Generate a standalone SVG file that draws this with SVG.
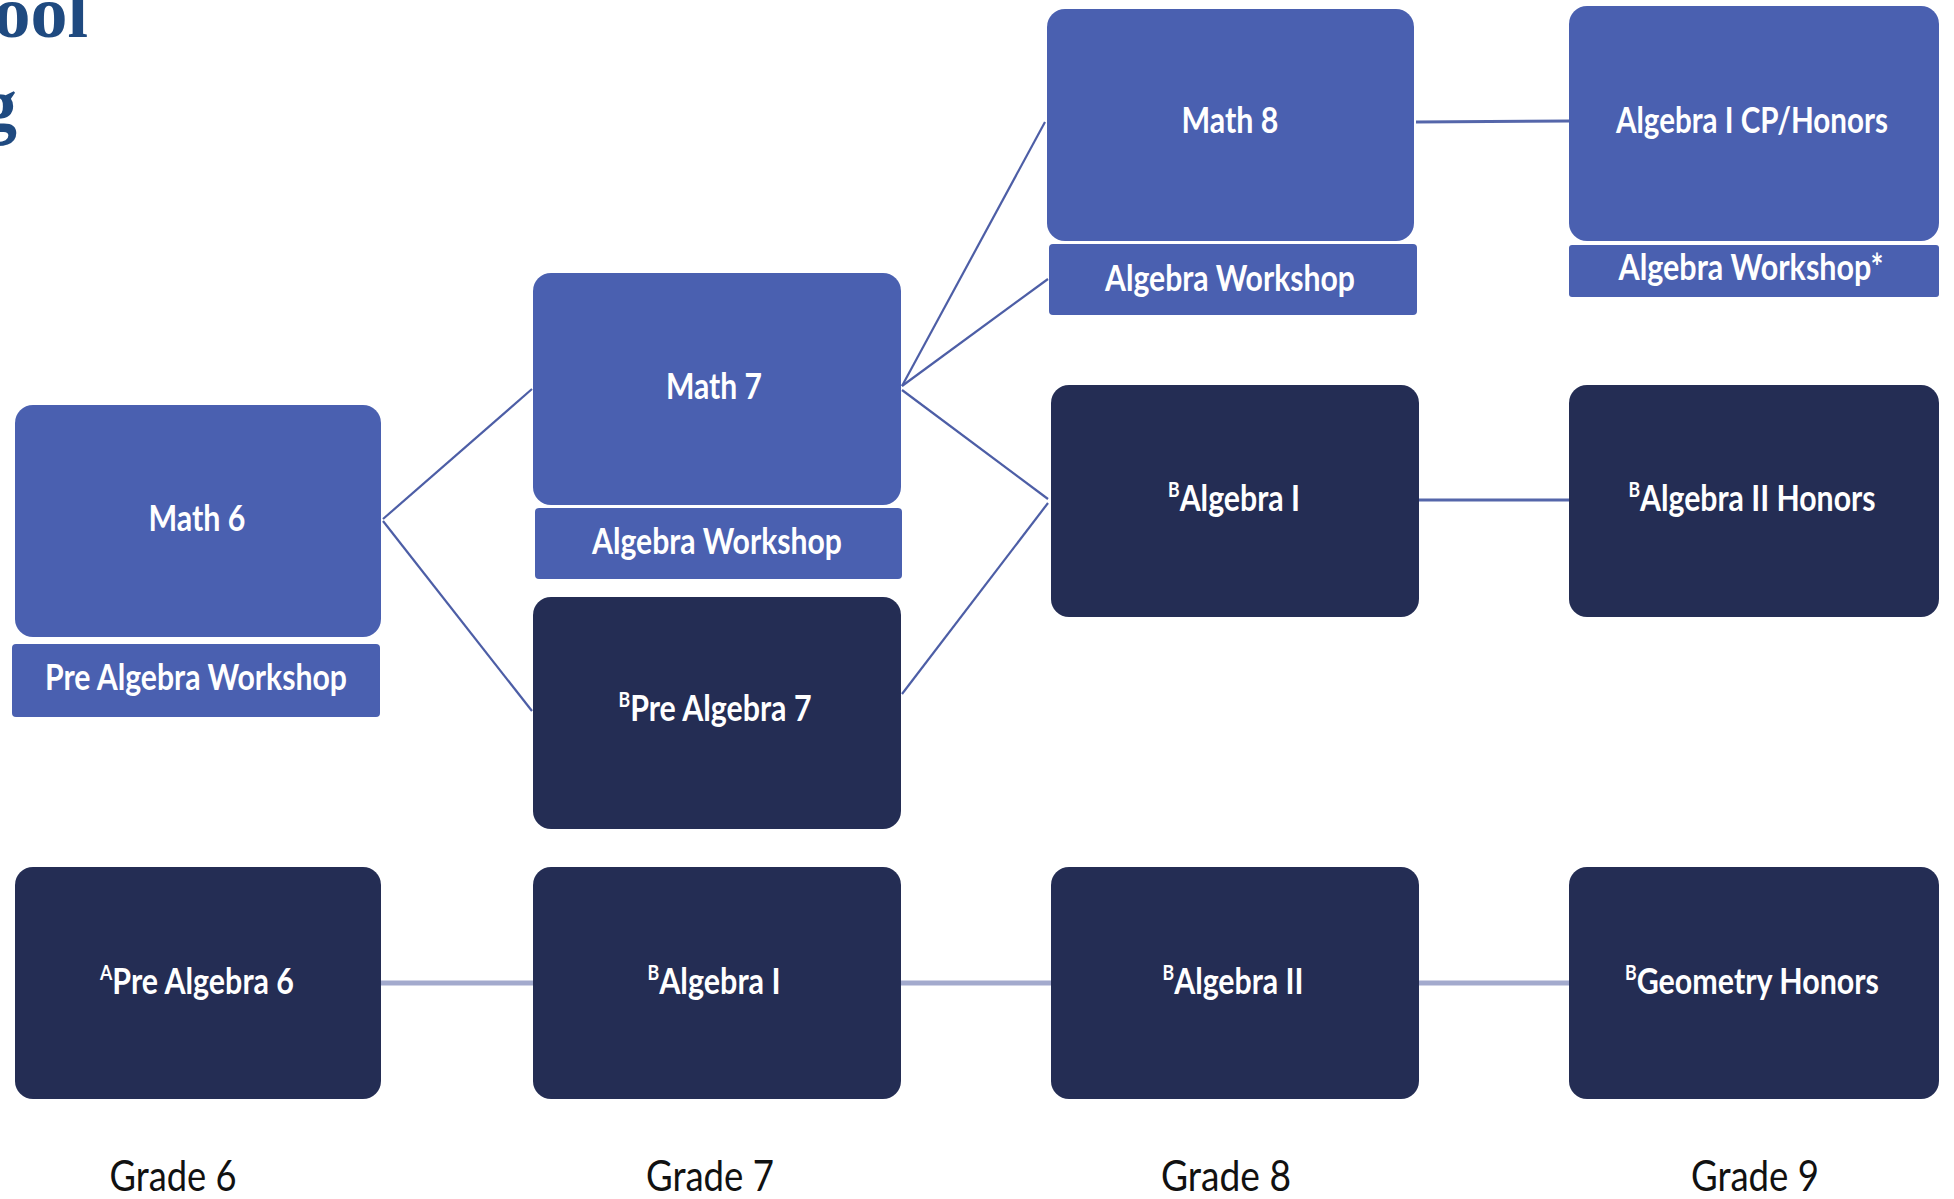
<svg xmlns="http://www.w3.org/2000/svg" width="1954" height="1199" viewBox="0 0 1954 1199">
<style>
.lb{fill:#4A60B0}
.dk{fill:#242D54}
.t{font-family:Lato,"Open Sans",sans-serif;font-weight:bold;font-size:36px;fill:#fff;text-anchor:middle}
.sup{font-size:21px}
.g{font-family:Lato,"Open Sans",sans-serif;font-size:42px;fill:#111;text-anchor:middle}
.title{font-family:"Liberation Serif",serif;font-weight:bold;font-size:74px;fill:#1F4A80}
.c{stroke:#4D5EA6;stroke-width:2.2;fill:none}
.c2{stroke:#5566AA;stroke-width:3;fill:none}
.c3{stroke:#A3AACD;stroke-width:5;fill:none}
</style>
<rect width="1954" height="1199" fill="#fff"/>
<text class="title" x="88" y="37" text-anchor="end">ool</text>
<text class="title" x="17" y="130" text-anchor="end">g</text>

<g id="connectors">
<line class="c" x1="383" y1="519" x2="532" y2="389"/>
<line class="c" x1="383" y1="521" x2="532" y2="711"/>
<line class="c" x1="902" y1="386" x2="1045" y2="122"/>
<line class="c" x1="902" y1="386" x2="1048" y2="279"/>
<line class="c" x1="902" y1="390" x2="1048" y2="499"/>
<line class="c" x1="902" y1="694" x2="1048" y2="503"/>
<line class="c2" x1="1416" y1="122" x2="1569" y2="121"/>
<line class="c2" x1="1419" y1="500" x2="1569" y2="500"/>
<line class="c3" x1="381" y1="983" x2="533" y2="983"/>
<line class="c3" x1="901" y1="983" x2="1051" y2="983"/>
<line class="c3" x1="1419" y1="983" x2="1569" y2="983"/>
</g>

<g id="math6"><rect class="lb" x="15" y="405" width="366" height="232" rx="18"/><text class="t" x="197" y="531" textLength="97" lengthAdjust="spacingAndGlyphs">Math 6</text></g>
<g id="prealgws"><rect class="lb" x="12" y="644" width="368" height="73" rx="4"/><text class="t" x="196" y="690" textLength="302" lengthAdjust="spacingAndGlyphs">Pre Algebra Workshop</text></g>

<g id="math7"><rect class="lb" x="533" y="273" width="368" height="232" rx="18"/><text class="t" x="714" y="399" textLength="96" lengthAdjust="spacingAndGlyphs">Math 7</text></g>
<g id="algws7"><rect class="lb" x="535" y="508" width="367" height="71" rx="4"/><text class="t" x="717" y="554" textLength="250" lengthAdjust="spacingAndGlyphs">Algebra Workshop</text></g>
<g id="prealg7"><rect class="dk" x="533" y="597" width="368" height="232" rx="18"/><text class="t" x="715" y="721" textLength="193" lengthAdjust="spacingAndGlyphs"><tspan class="sup" dy="-14">B</tspan><tspan dy="14">Pre Algebra 7</tspan></text></g>

<g id="math8"><rect class="lb" x="1047" y="9" width="367" height="232" rx="18"/><text class="t" x="1230" y="133" textLength="97" lengthAdjust="spacingAndGlyphs">Math 8</text></g>
<g id="algws8"><rect class="lb" x="1049" y="244" width="368" height="71" rx="4"/><text class="t" x="1230" y="291" textLength="250" lengthAdjust="spacingAndGlyphs">Algebra Workshop</text></g>
<g id="alg1g8"><rect class="dk" x="1051" y="385" width="368" height="232" rx="18"/><text class="t" x="1234" y="511" textLength="132" lengthAdjust="spacingAndGlyphs"><tspan class="sup" dy="-14">B</tspan><tspan dy="14">Algebra I</tspan></text></g>

<g id="alg1cp"><rect class="lb" x="1569" y="6" width="370" height="235" rx="18"/><text class="t" x="1752" y="133" textLength="272" lengthAdjust="spacingAndGlyphs">Algebra I CP/Honors</text></g>
<g id="algws9"><rect class="lb" x="1569" y="245" width="370" height="52" rx="3"/><text class="t" x="1751" y="280" textLength="265" lengthAdjust="spacingAndGlyphs">Algebra Workshop*</text></g>
<g id="alg2hon"><rect class="dk" x="1569" y="385" width="370" height="232" rx="18"/><text class="t" x="1752" y="511" textLength="247" lengthAdjust="spacingAndGlyphs"><tspan class="sup" dy="-14">B</tspan><tspan dy="14">Algebra II Honors</tspan></text></g>

<g id="prealg6"><rect class="dk" x="15" y="867" width="366" height="232" rx="18"/><text class="t" x="197" y="994" textLength="194" lengthAdjust="spacingAndGlyphs"><tspan class="sup" dy="-14">A</tspan><tspan dy="14">Pre Algebra 6</tspan></text></g>
<g id="alg1g7"><rect class="dk" x="533" y="867" width="368" height="232" rx="18"/><text class="t" x="714" y="994" textLength="133" lengthAdjust="spacingAndGlyphs"><tspan class="sup" dy="-14">B</tspan><tspan dy="14">Algebra I</tspan></text></g>
<g id="alg2"><rect class="dk" x="1051" y="867" width="368" height="232" rx="18"/><text class="t" x="1233" y="994" textLength="141" lengthAdjust="spacingAndGlyphs"><tspan class="sup" dy="-14">B</tspan><tspan dy="14">Algebra II</tspan></text></g>
<g id="geomhon"><rect class="dk" x="1569" y="867" width="370" height="232" rx="18"/><text class="t" x="1752" y="994" textLength="254" lengthAdjust="spacingAndGlyphs"><tspan class="sup" dy="-14">B</tspan><tspan dy="14">Geometry Honors</tspan></text></g>

<g id="grades">
<text class="g" x="173" y="1191" textLength="127" lengthAdjust="spacingAndGlyphs">Grade 6</text>
<text class="g" x="710" y="1191" textLength="128" lengthAdjust="spacingAndGlyphs">Grade 7</text>
<text class="g" x="1226" y="1191" textLength="130" lengthAdjust="spacingAndGlyphs">Grade 8</text>
<text class="g" x="1755" y="1191" textLength="128" lengthAdjust="spacingAndGlyphs">Grade 9</text>
</g>
</svg>
